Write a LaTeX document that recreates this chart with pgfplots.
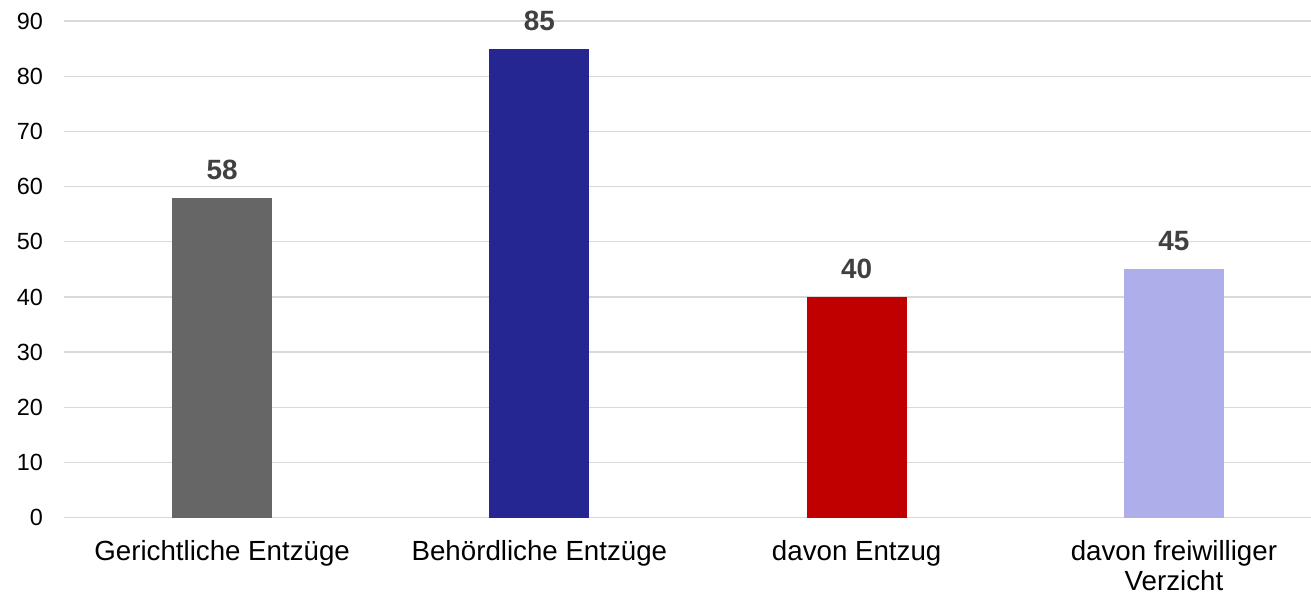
\documentclass[border=0pt]{standalone}
\usepackage{pgfplots}
\pgfplotsset{compat=1.18}
\usepackage{fontspec}
\setmainfont{Liberation Sans}
\definecolor{cgray}{HTML}{666666}
\definecolor{cblue}{HTML}{262693}
\definecolor{cred}{HTML}{C00000}
\definecolor{clav}{HTML}{AEAEEB}
\definecolor{cgrid}{HTML}{D9D9D9}
\definecolor{clab}{HTML}{404040}
\begin{document}
\begin{tikzpicture}
\begin{axis}[
  scale only axis,
  width=1247.5bp, height=496.7bp,
  xmin=-0.5, xmax=3.432,
  ymin=0, ymax=90,
  ytick distance=10,
  xtick={0,1,2,3},
  xticklabels={Gerichtliche Entzüge,Behördliche Entzüge,davon Entzug,{davon freiwilliger\\Verzicht}},
  axis line style={draw=none},
  tick style={draw=none},
  ymajorgrids,
  grid style={cgrid, line width=1.3bp},
  /pgf/number format/assume math mode=true,
  yticklabel style={font=\fontsize{23.5}{27}\selectfont, text=black, xshift=-17bp},
  xticklabel style={font=\fontsize{27.8}{30.5}\selectfont, text=black, align=center, anchor=north, yshift=-15bp},
  ybar, bar width=100bp, bar shift=0pt,
  nodes near coords,
  nodes near coords style={font=\fontsize{28}{32}\selectfont\bfseries, text=clab, anchor=south, inner sep=0pt, yshift=18bp},
  clip=false,
]
\addplot[fill=cgray, draw=none] coordinates {(0,58)};
\addplot[fill=cblue, draw=none] coordinates {(1,85)};
\addplot[fill=cred, draw=none] coordinates {(2,40)};
\addplot[fill=clav, draw=none] coordinates {(3,45)};
\end{axis}
\pgfresetboundingbox
\path ([shift={(-63.5bp,-80.3bp)}]current axis.south west) rectangle ([shift={(0bp,21bp)}]current axis.north east);
\end{tikzpicture}
\end{document}
